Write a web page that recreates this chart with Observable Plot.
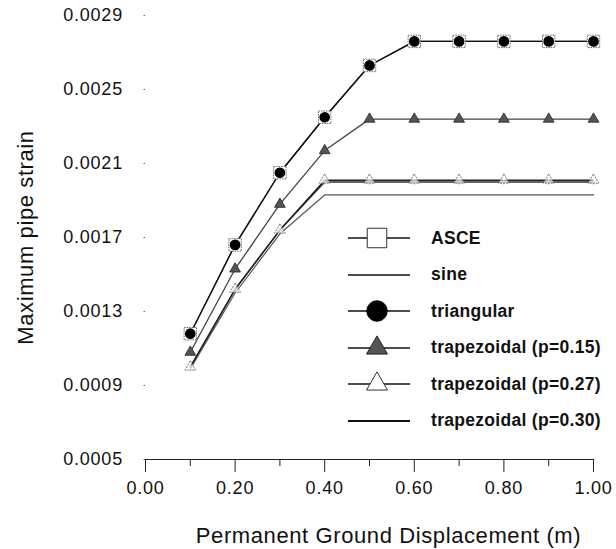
<!DOCTYPE html>
<html>
<head>
<meta charset="utf-8">
<script src="https://cdn.jsdelivr.net/npm/d3@7"></script>
<script src="https://cdn.jsdelivr.net/npm/@observablehq/plot@0.6"></script>
<style>
  html, body { margin: 0; padding: 0; background: #fff; }
  #wrap { position: relative; width: 616px; height: 549px; font-family: "Liberation Sans", Arial, Helvetica, sans-serif; }
  #legend { position: absolute; left: 346px; top: 220px; }
  .row { display: flex; align-items: center; height: 36.5px; }
  .row span { font-weight: bold; font-size: 17.5px; letter-spacing: 0.3px; margin-left: 17px; color: #111; }
  #chart svg g[aria-label="y-axis tick label"] text,
  #chart svg g[aria-label="x-axis tick label"] text { letter-spacing: 0.8px; }
  #chart svg .title text { letter-spacing: 0.6px; }
</style>
</head>
<body>
<div id="wrap"><div id="chart"></div><div id="legend"></div></div>
<script>
// Data
const displacement = [0.1, 0.2, 0.3, 0.4, 0.5, 0.6, 0.7, 0.8, 0.9, 1.0];
const asce       = [0.00118, 0.00166, 0.00205, 0.00235, 0.00263, 0.00276, 0.00276, 0.00276, 0.00276, 0.00276];
const sine       = [0.00100, 0.00142, 0.00174, 0.00200, 0.00200, 0.00200, 0.00200, 0.00200, 0.00200, 0.00200];
const triangular = [0.00118, 0.00166, 0.00205, 0.00235, 0.00263, 0.00276, 0.00276, 0.00276, 0.00276, 0.00276];
const trap015    = [0.00108, 0.00153, 0.00188, 0.00217, 0.00234, 0.00234, 0.00234, 0.00234, 0.00234, 0.00234];
const trap027    = [0.00100, 0.00142, 0.00174, 0.00201, 0.00201, 0.00201, 0.00201, 0.00201, 0.00201, 0.00201];
const trap030    = [0.00099, 0.00140, 0.00172, 0.00193, 0.00193, 0.00193, 0.00193, 0.00193, 0.00193, 0.00193];
const seriesNames = ["ASCE", "sine", "triangular", "trapezoidal (p=0.15)", "trapezoidal (p=0.27)", "trapezoidal (p=0.30)"];
const xTicks = [0, 0.2, 0.4, 0.6, 0.8, 1.0];
const xMinorTicks = [0.1, 0.3, 0.5, 0.7, 0.9];
const yTicks = [0.0005, 0.0009, 0.0013, 0.0017, 0.0021, 0.0025, 0.0029];
const xTitle = "Permanent Ground Displacement (m)";
const yTitle = "Maximum pipe strain";

const toRows = (vals) => displacement.map((x, i) => ({x, y: vals[i]}));
const dASCE = toRows(asce), dSine = toRows(sine), dTri = toRows(triangular),
      dT15 = toRows(trap015), dT27 = toRows(trap027), dT30 = toRows(trap030);

const chart = Plot.plot({
  width: 616,
  height: 549,
  marginTop: 15,
  marginBottom: 90,
  marginLeft: 145,
  marginRight: 23,
  style: {fontFamily: "'Liberation Sans', Arial, Helvetica, sans-serif", fontSize: "18px", color: "#111", background: "#fff"},
  x: {domain: [0, 1]},
  y: {domain: [0.0005, 0.0029]},
  marks: [
    Plot.axisX({ticks: xMinorTicks, tickSize: 7, tickFormat: () => "", label: null, stroke: "#222"}),
    Plot.axisX({ticks: xTicks, tickSize: 13, tickPadding: 9, tickFormat: d3.format(".2f"), fontSize: 18,
      label: null, stroke: "#222"}),
    Plot.axisY({ticks: yTicks, tickSize: 1.5, tickPadding: 21, tickFormat: d3.format(".4f"), fontSize: 18,
      label: null, stroke: "#666"}),
    Plot.ruleY([0.0005], {stroke: "#222", strokeWidth: 1.2}),
    Plot.text([xTitle], {frameAnchor: "bottom", dx: 19, dy: 83, fontSize: 22, fill: "#111", text: d => d, className: "title"}),
    Plot.text([yTitle], {frameAnchor: "left", textAnchor: "middle", rotate: -90, dx: -120, fontSize: 22, fill: "#111", text: d => d, className: "title"}),
    // lines
    Plot.line(dT30, {x: "x", y: "y", stroke: "#555", strokeWidth: 1.2}),
    Plot.line(dSine, {x: "x", y: "y", stroke: "#333", strokeWidth: 1.3}),
    Plot.line(dT27, {x: "x", y: "y", stroke: "#222", strokeWidth: 1.5}),
    Plot.line(dT15, {x: "x", y: "y", stroke: "#444", strokeWidth: 1.3}),
    Plot.line(dASCE, {x: "x", y: "y", stroke: "#111", strokeWidth: 1.3}),
    Plot.line(dTri, {x: "x", y: "y", stroke: "#111", strokeWidth: 1.2}),
    // markers
    Plot.dot(dSine, {x: "x", y: "y", symbol: "plus", r: 2, stroke: "#aaa", strokeWidth: 0.8}),
    Plot.dot(dT27, {x: "x", y: "y", symbol: "triangle", r: 4, fill: "#fff", fillOpacity: 0.6, stroke: "#666", strokeWidth: 0.9, strokeDasharray: "2,1"}),
    Plot.dot(dT15, {x: "x", y: "y", symbol: "triangle", r: 4, fill: "#555", stroke: "#222", strokeWidth: 0.8}),
    Plot.dot(dASCE, {x: "x", y: "y", symbol: "square", r: 7, fill: "#fff", stroke: "#666", strokeWidth: 1, strokeDasharray: "1.5,1"}),
    Plot.dot(dTri, {x: "x", y: "y", symbol: "circle", r: 4.6, fill: "#000", stroke: "#000"})
  ]
});
document.getElementById("chart").appendChild(chart);

// Legend (HTML overlay built from series names)
const legend = d3.select("#legend");
const symbolPath = (name, size) => {
  const map = {square: d3.symbolSquare, circle: d3.symbolCircle, triangle: d3.symbolTriangle};
  return d3.symbol(map[name], size)();
};
const legendSpec = {
  "ASCE": {sym: "square", size: 380, fill: "#fff", stroke: "#333", sw: 1},
  "sine": {sym: null},
  "triangular": {sym: "circle", size: 330, fill: "#000", stroke: "#000", sw: 1},
  "trapezoidal (p=0.15)": {sym: "triangle", size: 190, fill: "#555", stroke: "#222", sw: 1},
  "trapezoidal (p=0.27)": {sym: "triangle", size: 190, fill: "#fff", stroke: "#333", sw: 1},
  "trapezoidal (p=0.30)": {sym: null}
};
seriesNames.forEach(name => {
  const row = legend.append("div").attr("class", "row");
  const svg = row.append("svg").attr("width", 68).attr("height", 30);
  svg.append("line").attr("x1", 2).attr("x2", 64).attr("y1", 15).attr("y2", 15)
    .attr("stroke", "#111").attr("stroke-width", name === "trapezoidal (p=0.30)" ? 2 : 1.3);
  const s = legendSpec[name];
  if (s.sym) {
    svg.append("path").attr("d", symbolPath(s.sym, s.size)).attr("transform", "translate(31,15)")
      .attr("fill", s.fill).attr("stroke", s.stroke).attr("stroke-width", s.sw);
  }
  row.append("span").text(name);
});
</script>
</body>
</html>
